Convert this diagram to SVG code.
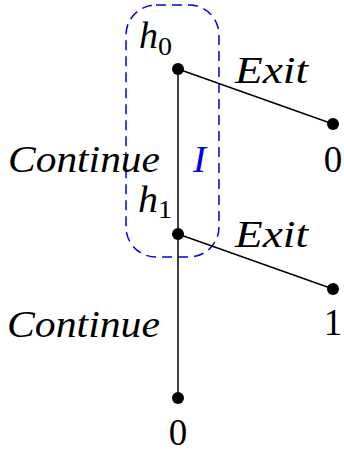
<svg xmlns="http://www.w3.org/2000/svg" width="344" height="454" viewBox="0 0 344 454">
<rect width="344" height="454" fill="#fff"/>
<g id="set-I">
<rect x="126" y="5" width="93" height="252" rx="30" ry="30" fill="none" stroke="#0000ee" stroke-width="1.5" stroke-dasharray="10,6"/>
<text x="193" y="172" style="font-family:'Liberation Serif',serif !important;font-size:37px;font-style:italic;fill:#0000ee" textLength="13" lengthAdjust="spacingAndGlyphs">I</text>
</g>
<g id="connectors" stroke="#000" stroke-width="1.5" fill="none">
<line x1="178" y1="69" x2="333" y2="124"/>
<line x1="178" y1="69" x2="178" y2="234"/>
<line x1="178" y1="234" x2="333" y2="289"/>
<line x1="178" y1="234" x2="178" y2="398"/>
</g>
<g id="labels">
<text x="235" y="83" style="font-family:'Liberation Serif',serif !important;font-size:37px;font-style:italic" textLength="73" lengthAdjust="spacingAndGlyphs">Exit</text>
<text x="235" y="247" style="font-family:'Liberation Serif',serif !important;font-size:37px;font-style:italic" textLength="73" lengthAdjust="spacingAndGlyphs">Exit</text>
<text x="8" y="172" style="font-family:'Liberation Serif',serif !important;font-size:37px;font-style:italic" textLength="152" lengthAdjust="spacingAndGlyphs">Continue</text>
<text x="7" y="337" style="font-family:'Liberation Serif',serif !important;font-size:37px;font-style:italic" textLength="153" lengthAdjust="spacingAndGlyphs">Continue</text>
</g>
<g id="h0">
<circle cx="178" cy="69" r="6" fill="#000"/>
<text x="139" y="48" style="font-family:'Liberation Serif',serif !important;font-size:37px;font-style:italic" textLength="19" lengthAdjust="spacingAndGlyphs">h</text>
<text x="158" y="55" style="font-family:'Liberation Serif',serif !important;font-size:25px" textLength="14" lengthAdjust="spacingAndGlyphs">0</text>
</g>
<g id="h1">
<circle cx="178" cy="234" r="6" fill="#000"/>
<text x="138" y="212" style="font-family:'Liberation Serif',serif !important;font-size:37px;font-style:italic" textLength="20" lengthAdjust="spacingAndGlyphs">h</text>
<text x="158" y="218" style="font-family:'Liberation Serif',serif !important;font-size:25px" textLength="14" lengthAdjust="spacingAndGlyphs">1</text>
</g>
<g id="leaf-exit-0">
<circle cx="333" cy="124" r="6" fill="#000"/>
<text x="333" y="172" style="font-family:'Liberation Serif',serif !important;font-size:37px" text-anchor="middle">0</text>
</g>
<g id="leaf-exit-1">
<circle cx="333" cy="289" r="6" fill="#000"/>
<text x="333" y="335" style="font-family:'Liberation Serif',serif !important;font-size:37px" text-anchor="middle">1</text>
</g>
<g id="leaf-continue-0">
<circle cx="178" cy="398" r="6" fill="#000"/>
<text x="178" y="445" style="font-family:'Liberation Serif',serif !important;font-size:37px" text-anchor="middle">0</text>
</g>
</svg>
